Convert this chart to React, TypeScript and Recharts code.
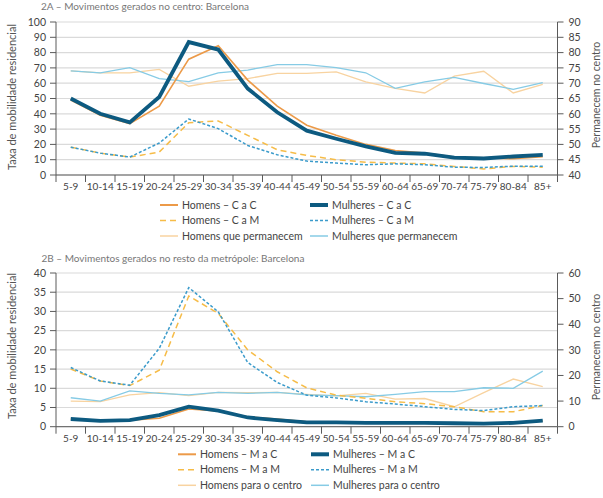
import React from "react";
import { LineChart, Line, XAxis, YAxis, CartesianGrid } from "recharts";

// Age groups shared by both panels
const ageGroups = ["5-9", "10-14", "15-19", "20-24", "25-29", "30-34", "35-39", "40-44", "45-49", "50-54", "55-59", "60-64", "65-69", "70-74", "75-79", "80-84", "85+"];

// Panel 2A – moves generated in the centre (left axis: rate; right axis: stay in centre)
const homensCaC = [49, 39, 33.5, 45, 75.7, 84.5, 62, 45, 32.5, 26, 20, 16, 14.3, 11.7, 11.3, 10.6, 12];
const mulheresCaC = [50, 40, 34.4, 51, 86.9, 82, 56.5, 41, 29, 23.7, 18.7, 14.5, 13.9, 11.3, 10.8, 12.1, 13.2];
const homensCaM = [18.2, 14.3, 11.7, 15, 34.2, 35.3, 25.9, 16.5, 12.8, 10, 8.4, 7.8, 7.3, 5.6, 4, 5.6, 5.1];
const mulheresCaM = [18.2, 14.3, 11.7, 20.9, 36.6, 30.3, 19.3, 13.2, 9.1, 7.8, 6.7, 7.3, 6.7, 5.1, 4.9, 5.8, 5.8];
const homensPermanecem = [74, 73.4, 73.4, 74.5, 69, 70.7, 71.5, 73.2, 73.2, 73.7, 70.4, 68.3, 66.8, 72.3, 73.9, 66.8, 69.6];
const mulheresPermanecem = [74, 73.4, 75.1, 71.5, 70.5, 73.4, 74.3, 76.1, 76.1, 75.1, 73.4, 68.3, 70.4, 71.9, 69.9, 68, 70.2];

// Panel 2B – moves generated in the rest of the metropolis
const homensMaC = [2, 1.5, 1.7, 2.2, 4.6, 4.1, 2.6, 2, 1.3, 1.1, 1, 1, 1, 0.9, 0.8, 1, 1.5];
const mulheresMaC = [2, 1.5, 1.7, 3, 5.2, 4.2, 2.4, 1.7, 1.1, 1.1, 1, 1, 1, 0.9, 0.8, 1, 1.6];
const homensMaM = [15, 11.9, 10.7, 14.7, 34, 29.5, 20, 14.3, 10.1, 8.2, 7.4, 6.5, 6, 5.2, 3.9, 3.9, 5.5];
const mulheresMaM = [15.4, 11.9, 10.8, 20.4, 36.2, 29.9, 16.7, 11.5, 8.2, 7.5, 6.5, 5.9, 5.2, 4.5, 4.2, 5.2, 5.5];
const homensParaCentro = [10, 9.8, 12.4, 13.3, 12.1, 13.4, 13.3, 13.4, 12.6, 12, 13, 10.8, 11, 7.8, 13.3, 18.6, 15.6];
const mulheresParaCentro = [11.3, 10, 14, 13, 12.4, 13.4, 13, 13.4, 12.4, 12.1, 11.7, 12.6, 13.7, 13.7, 15.2, 15, 21.7];

const ticksA = [0, 10, 20, 30, 40, 50, 60, 70, 80, 90, 100];
const ticksARight = [40, 45, 50, 55, 60, 65, 70, 75, 80, 85, 90];
const ticksB = [0, 5, 10, 15, 20, 25, 30, 35, 40];
const ticksBRight = [0, 10, 20, 30, 40, 50, 60];

const dataA = ageGroups.map((age, i) => ({
  age,
  homensCaC: homensCaC[i],
  mulheresCaC: mulheresCaC[i],
  homensCaM: homensCaM[i],
  mulheresCaM: mulheresCaM[i],
  homensPermanecem: homensPermanecem[i],
  mulheresPermanecem: mulheresPermanecem[i],
}));

const dataB = ageGroups.map((age, i) => ({
  age,
  homensMaC: homensMaC[i],
  mulheresMaC: mulheresMaC[i],
  homensMaM: homensMaM[i],
  mulheresMaM: mulheresMaM[i],
  homensParaCentro: homensParaCentro[i],
  mulheresParaCentro: mulheresParaCentro[i],
}));

const FONT = "Lato, 'Open Sans', sans-serif";
const AXIS = "#5a5a5a";
const TEXT = "#444";
const GRID = "#dadada";

const C_ORANGE = "#EC9A48";
const C_NAVY = "#0D5A80";
const C_YELLOW = "#F6BC48";
const C_BLUE = "#3B9BCB";
const C_LIGHT_ORANGE = "#F8D3A0";
const C_LIGHT_BLUE = "#86CBE5";

const DASH_H = "6 4";
const DASH_M = "3 2";

const HALF_BAND = 14.75;
const LAST = ageGroups.length - 1;

// Category label centred in its band, tick marks on the band boundaries
const AgeTick = (props: any) => {
  const { x, y, payload, index } = props;
  const axisY = y - 8;
  return (
    <g>
      <line x1={x - HALF_BAND} y1={axisY} x2={x - HALF_BAND} y2={axisY + 7} stroke={AXIS} strokeWidth={1} />
      {index === LAST && (
        <line x1={x + HALF_BAND} y1={axisY} x2={x + HALF_BAND} y2={axisY + 7} stroke={AXIS} strokeWidth={1} />
      )}
      <text x={x} y={y} dy="0.71em" textAnchor="middle" fontSize={10} fontFamily={FONT} fill={TEXT}>
        {payload.value}
      </text>
    </g>
  );
};

const tickStyle = { fontSize: 10.5, fontFamily: FONT, fill: TEXT };

type LegendItem = { label: string; color: string; width: number; dash?: string };

const LegendBlock = ({ items, top, col1, col2 }: { items: LegendItem[]; top: number; col1: number; col2: number }) => (
  <g>
    {items.map((it, i) => {
      const col = i % 2 === 0 ? col1 : col2;
      const row = Math.floor(i / 2);
      const y = top + row * 15.5;
      return (
        <g key={it.label}>
          <line x1={col} y1={y} x2={col + 18} y2={y} stroke={it.color} strokeWidth={it.width} strokeDasharray={it.dash} />
          <text x={col + 22} y={y} dy="0.35em" fontSize={10.5} fontFamily={FONT} fill={TEXT}>
            {it.label}
          </text>
        </g>
      );
    })}
  </g>
);

const legendA: LegendItem[] = [
  { label: "Homens – C a C", color: C_ORANGE, width: 2 },
  { label: "Mulheres – C a C", color: C_NAVY, width: 4 },
  { label: "Homens – C a M", color: C_YELLOW, width: 1.5, dash: DASH_H },
  { label: "Mulheres – C a M", color: C_BLUE, width: 1.5, dash: DASH_M },
  { label: "Homens que permanecem", color: C_LIGHT_ORANGE, width: 1.5 },
  { label: "Mulheres que permanecem", color: C_LIGHT_BLUE, width: 1.5 },
];

const legendB: LegendItem[] = [
  { label: "Homens – M a C", color: C_ORANGE, width: 2 },
  { label: "Mulheres – M a C", color: C_NAVY, width: 4 },
  { label: "Homens – M a M", color: C_YELLOW, width: 1.5, dash: DASH_H },
  { label: "Mulheres – M a M", color: C_BLUE, width: 1.5, dash: DASH_M },
  { label: "Homens para o centro", color: C_LIGHT_ORANGE, width: 1.5 },
  { label: "Mulheres para o centro", color: C_LIGHT_BLUE, width: 1.5 },
];

const xAxisProps = {
  dataKey: "age",
  padding: { left: HALF_BAND, right: HALF_BAND },
  interval: 0 as const,
  tickLine: false,
  tick: <AgeTick />,
  height: 25,
  axisLine: { stroke: AXIS },
};

const yAxisCommon = {
  interval: 0 as const,
  tickSize: 6,
  tick: tickStyle,
  axisLine: { stroke: AXIS },
  tickLine: { stroke: AXIS },
};

export default function App() {
  return (
    <div style={{ position: "absolute", left: 0, top: 0, width: 603, height: 498, background: "#fff" }}>
      <div style={{ position: "absolute", left: 0, top: 0 }}>
        <LineChart width={603} height={250} data={dataA} margin={{ top: 22, right: 0.5, bottom: 50, left: 6 }}>
          <CartesianGrid vertical={false} stroke={GRID} strokeWidth={1.2} yAxisId="left" />
          <XAxis {...xAxisProps} />
          <YAxis yAxisId="left" domain={[0, 100]} ticks={ticksA} width={50} tickMargin={4} {...yAxisCommon} />
          <YAxis yAxisId="right" orientation="right" domain={[40, 90]} ticks={ticksARight} width={45} tickMargin={5} {...yAxisCommon} />
          <Line yAxisId="right" dataKey="homensPermanecem" stroke={C_LIGHT_ORANGE} strokeWidth={1.3} dot={false} isAnimationActive={false} />
          <Line yAxisId="right" dataKey="mulheresPermanecem" stroke={C_LIGHT_BLUE} strokeWidth={1.3} dot={false} isAnimationActive={false} />
          <Line yAxisId="left" dataKey="homensCaM" stroke={C_YELLOW} strokeWidth={1.5} strokeDasharray={DASH_H} dot={false} isAnimationActive={false} />
          <Line yAxisId="left" dataKey="mulheresCaM" stroke={C_BLUE} strokeWidth={1.5} strokeDasharray={DASH_M} dot={false} isAnimationActive={false} />
          <Line yAxisId="left" dataKey="homensCaC" stroke={C_ORANGE} strokeWidth={1.6} dot={false} isAnimationActive={false} />
          <Line yAxisId="left" dataKey="mulheresCaC" stroke={C_NAVY} strokeWidth={3.8} dot={false} isAnimationActive={false} />
        </LineChart>
      </div>
      <div style={{ position: "absolute", left: 0, top: 250 }}>
        <LineChart width={603} height={248} data={dataB} margin={{ top: 23, right: 0.5, bottom: 46.3, left: 6 }}>
          <CartesianGrid vertical={false} stroke={GRID} strokeWidth={1.2} yAxisId="left" />
          <XAxis {...xAxisProps} />
          <YAxis yAxisId="left" domain={[0, 40]} ticks={ticksB} width={50} tickMargin={4} {...yAxisCommon} />
          <YAxis yAxisId="right" orientation="right" domain={[0, 60]} ticks={ticksBRight} width={45} tickMargin={5} {...yAxisCommon} />
          <Line yAxisId="right" dataKey="homensParaCentro" stroke={C_LIGHT_ORANGE} strokeWidth={1.3} dot={false} isAnimationActive={false} />
          <Line yAxisId="right" dataKey="mulheresParaCentro" stroke={C_LIGHT_BLUE} strokeWidth={1.3} dot={false} isAnimationActive={false} />
          <Line yAxisId="left" dataKey="homensMaM" stroke={C_YELLOW} strokeWidth={1.5} strokeDasharray={DASH_H} dot={false} isAnimationActive={false} />
          <Line yAxisId="left" dataKey="mulheresMaM" stroke={C_BLUE} strokeWidth={1.5} strokeDasharray={DASH_M} dot={false} isAnimationActive={false} />
          <Line yAxisId="left" dataKey="homensMaC" stroke={C_ORANGE} strokeWidth={1.6} dot={false} isAnimationActive={false} />
          <Line yAxisId="left" dataKey="mulheresMaC" stroke={C_NAVY} strokeWidth={3.8} dot={false} isAnimationActive={false} />
        </LineChart>
      </div>
      <svg width={603} height={498} style={{ position: "absolute", left: 0, top: 0, pointerEvents: "none" }}>
        <text x={41} y={9.5} fontSize={10} fontFamily={FONT} fill="#777">
          2A – Movimentos gerados no centro: Barcelona
        </text>
        <text x={41.5} y={261.5} fontSize={10} fontFamily={FONT} fill="#777">
          2B – Movimentos gerados no resto da metrópole: Barcelona
        </text>
        <text transform="translate(16,97) rotate(-90)" textAnchor="middle" fontSize={11} fontFamily={FONT} fill="#555">
          Taxa de mobilidade residencial
        </text>
        <text transform="translate(599.5,95) rotate(-90)" textAnchor="middle" fontSize={10.5} fontFamily={FONT} fill="#555">
          Permanecem no centro
        </text>
        <text transform="translate(16,346) rotate(-90)" textAnchor="middle" fontSize={11} fontFamily={FONT} fill="#555">
          Taxa de mobilidade residencial
        </text>
        <text transform="translate(599.5,347) rotate(-90)" textAnchor="middle" fontSize={10.5} fontFamily={FONT} fill="#555">
          Permanecem no centro
        </text>
        <LegendBlock items={legendA} top={205} col1={160} col2={310} />
        <LegendBlock items={legendB} top={454.3} col1={178} col2={311} />
      </svg>
    </div>
  );
}
